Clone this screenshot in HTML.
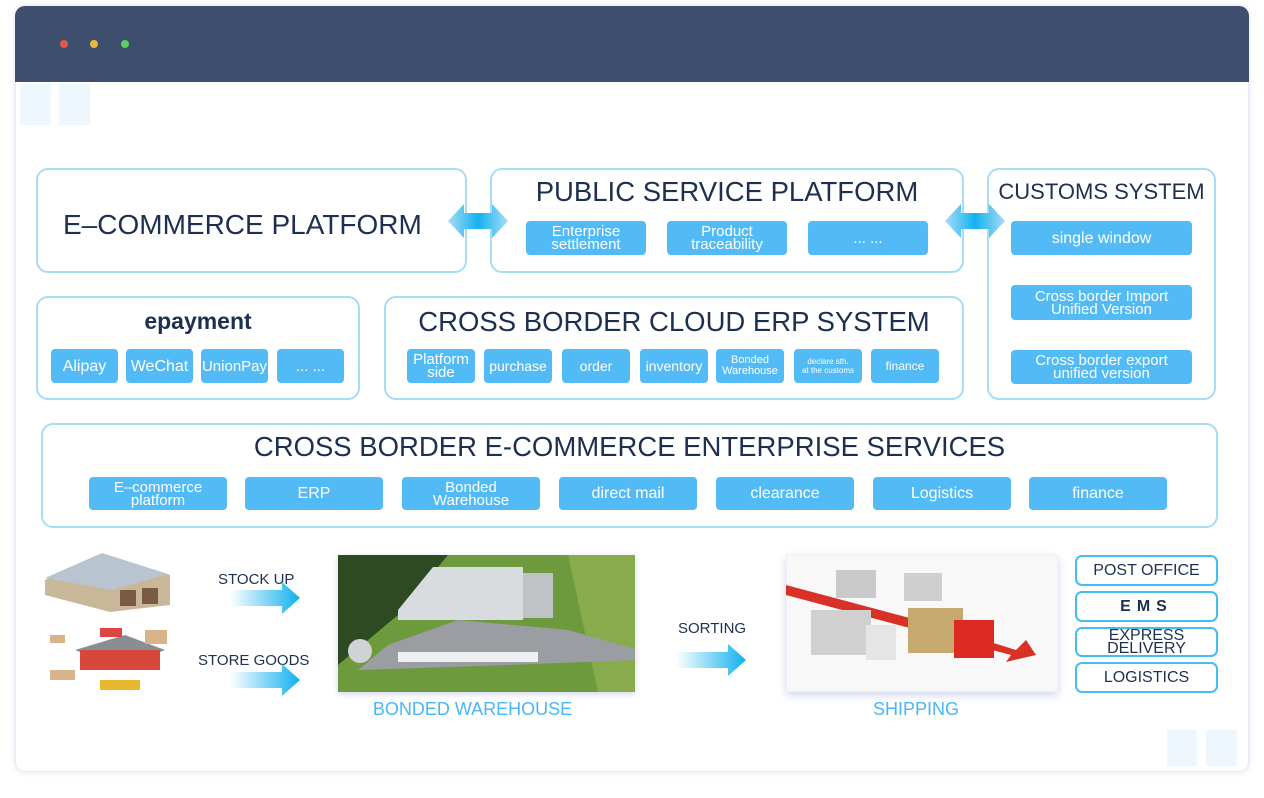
<!DOCTYPE html>
<html><head><meta charset="utf-8"><style>
*{margin:0;padding:0;box-sizing:border-box}
body{width:1264px;height:798px;background:#fff;position:relative;overflow:hidden;font-family:"Liberation Sans",Arial,sans-serif;color:#1d3050}
.a{position:absolute}
.card{left:15px;top:6px;width:1234px;height:766px;border-radius:10px;background:#fff;box-shadow:0 0 6px rgba(120,140,200,.25);border:1px solid #e6ebf7}
.hdr{left:15px;top:6px;width:1234px;height:76px;background:#3e4f6e;border-radius:10px 10px 0 0}
.dot{width:8px;height:8px;border-radius:50%;top:40px}
.box{border:2px solid #a6dcf4;border-radius:12px;background:#fff}
.chip{background:#52bbf6;color:#fff;border-radius:4px;display:flex;align-items:center;justify-content:center;text-align:center;font-size:15px;line-height:13px}
.t{white-space:nowrap;text-align:center}
.ob{border:2px solid #46bdf0;border-radius:7px;display:flex;align-items:center;justify-content:center;text-align:center;font-size:16px;line-height:13px;color:#1d3050}
.q{background:#eef7fe}
</style></head><body>
<div class="a card"></div>
<div class="a hdr"></div>
<div class="a dot" style="left:60px;background:#e0574a"></div>
<div class="a dot" style="left:90px;background:#f0b63c"></div>
<div class="a dot" style="left:121px;background:#5bd05a"></div>
<div class="a q" style="left:20px;top:84px;width:31px;height:41px"></div>
<div class="a q" style="left:59px;top:84px;width:31px;height:41px"></div>
<div class="a q" style="left:1167px;top:730px;width:30px;height:36px"></div>
<div class="a q" style="left:1206px;top:730px;width:31px;height:36px"></div>

<!-- row1 -->
<div class="a box" style="left:36px;top:168px;width:431px;height:105px"></div>
<div class="a t" style="left:63px;top:209px;font-size:28px">E–COMMERCE PLATFORM</div>

<div class="a box" style="left:490px;top:168px;width:474px;height:105px"></div>
<div class="a t" style="left:490px;width:474px;top:176px;font-size:27.5px">PUBLIC SERVICE PLATFORM</div>
<div class="a chip" style="left:526px;top:221px;width:120px;height:34px">Enterprise<br>settlement</div>
<div class="a chip" style="left:667px;top:221px;width:120px;height:34px">Product<br>traceability</div>
<div class="a chip" style="left:808px;top:221px;width:120px;height:34px">... ...</div>

<div class="a box" style="left:987px;top:168px;width:229px;height:232px"></div>
<div class="a t" style="left:987px;width:229px;top:179px;font-size:22px">CUSTOMS SYSTEM</div>
<div class="a chip" style="left:1011px;top:221px;width:181px;height:34px;font-size:16px">single window</div>
<div class="a chip" style="left:1011px;top:285px;width:181px;height:35px">Cross border Import<br>Unified Version</div>
<div class="a chip" style="left:1011px;top:350px;width:181px;height:34px">Cross border export<br>unified version</div>

<!-- row2 -->
<div class="a box" style="left:36px;top:296px;width:324px;height:104px"></div>
<div class="a t" style="left:36px;width:324px;top:308px;font-size:23px;font-weight:bold">epayment</div>
<div class="a chip" style="left:51px;top:349px;width:67px;height:34px;font-size:16px">Alipay</div>
<div class="a chip" style="left:126px;top:349px;width:67px;height:34px;font-size:16px">WeChat</div>
<div class="a chip" style="left:201px;top:349px;width:67px;height:34px">UnionPay</div>
<div class="a chip" style="left:277px;top:349px;width:67px;height:34px">... ...</div>

<div class="a box" style="left:384px;top:296px;width:580px;height:104px"></div>
<div class="a t" style="left:384px;width:580px;top:306px;font-size:27.5px">CROSS BORDER CLOUD ERP SYSTEM</div>
<div class="a chip" style="left:407px;top:349px;width:68px;height:34px">Platform<br>side</div>
<div class="a chip" style="left:484px;top:349px;width:68px;height:34px;font-size:14px">purchase</div>
<div class="a chip" style="left:562px;top:349px;width:68px;height:34px;font-size:14px">order</div>
<div class="a chip" style="left:640px;top:349px;width:68px;height:34px;font-size:14px">inventory</div>
<div class="a chip" style="left:716px;top:349px;width:68px;height:34px;font-size:11px;line-height:11px">Bonded<br>Warehouse</div>
<div class="a chip" style="left:794px;top:349px;width:68px;height:34px;font-size:8px;line-height:9px">declare sth.<br>at the customs</div>
<div class="a chip" style="left:871px;top:349px;width:68px;height:34px;font-size:12px">finance</div>

<!-- row3 -->
<div class="a box" style="left:41px;top:423px;width:1177px;height:105px"></div>
<div class="a t" style="left:41px;width:1177px;top:431px;font-size:27.5px">CROSS BORDER E-COMMERCE ENTERPRISE SERVICES</div>
<div class="a chip" style="left:89px;top:477px;width:138px;height:33px">E–commerce<br>platform</div>
<div class="a chip" style="left:245px;top:477px;width:138px;height:33px;font-size:16px">ERP</div>
<div class="a chip" style="left:402px;top:477px;width:138px;height:33px">Bonded<br>Warehouse</div>
<div class="a chip" style="left:559px;top:477px;width:138px;height:33px;font-size:16px">direct mail</div>
<div class="a chip" style="left:716px;top:477px;width:138px;height:33px;font-size:16px">clearance</div>
<div class="a chip" style="left:873px;top:477px;width:138px;height:33px;font-size:16px">Logistics</div>
<div class="a chip" style="left:1029px;top:477px;width:138px;height:33px;font-size:16px">finance</div>

<!-- bottom -->
<svg class="a" style="left:40px;top:550px" width="135" height="145">
<polygon points="5,30 65,5 130,25 130,55 70,62 5,45" fill="#c9b79a"/>
<polygon points="5,28 62,3 128,24 72,40" fill="#b8c4cf"/>
<rect x="80" y="40" width="16" height="16" fill="#7a5a45"/><rect x="102" y="38" width="16" height="16" fill="#7a5a45"/>
<polygon points="35,100 85,85 125,100 80,118" fill="#8a8d92"/>
<rect x="40" y="100" width="80" height="20" fill="#d8483a"/>
<rect x="60" y="130" width="40" height="10" fill="#e8b830"/>
<rect x="10" y="120" width="25" height="10" fill="#d9b48a"/><rect x="60" y="78" width="22" height="9" fill="#d44"/>
<rect x="10" y="85" width="15" height="8" fill="#d9b48a"/><rect x="105" y="80" width="22" height="14" fill="#d9b48a"/>
</svg>
<div class="a t" style="left:218px;top:571px;font-size:15px">STOCK UP</div>
<div class="a t" style="left:198px;top:652px;font-size:15px">STORE GOODS</div>
<div class="a t" style="left:678px;top:620px;font-size:15px">SORTING</div>
<svg class="a" style="left:230px;top:582px" width="72" height="32"><defs><linearGradient id="g2"><stop offset="0" stop-color="#fff"/><stop offset="1" stop-color="#0fb0ee"/></linearGradient></defs><polygon points="0,8 52,8 52,0 70,16 52,32 52,24 0,24" fill="url(#g2)"/></svg>
<svg class="a" style="left:230px;top:664px" width="72" height="32"><polygon points="0,8 52,8 52,0 70,16 52,32 52,24 0,24" fill="url(#g2)"/></svg>
<svg class="a" style="left:676px;top:644px" width="72" height="32"><polygon points="0,8 52,8 52,0 70,16 52,32 52,24 0,24" fill="url(#g2)"/></svg>

<svg class="a" style="left:338px;top:555px;box-shadow:0 2px 6px rgba(100,120,200,.3)" width="297" height="137">
<rect width="297" height="137" fill="#6d9a3c"/>
<polygon points="0,0 110,0 60,60 0,110" fill="#2e4a22"/>
<polygon points="230,0 297,0 297,137 260,137" fill="#88ac4c"/>
<polygon points="50,90 120,65 230,75 300,95 297,105 170,110 20,115" fill="#9a9ea2"/>
<polygon points="60,55 95,12 185,12 185,65 60,65" fill="#d8dcdf"/>
<rect x="185" y="18" width="30" height="45" fill="#bfc3c6"/>
<rect x="60" y="97" width="140" height="10" fill="#eef0f2"/>
<circle cx="22" cy="96" r="12" fill="#d0d3d5"/>
</svg>
<div class="a t" style="left:338px;width:269px;top:699px;font-size:18px;color:#4ab7f2">BONDED WAREHOUSE</div>

<svg class="a" style="left:786px;top:555px;box-shadow:0 3px 8px rgba(100,120,200,.3)" width="272" height="137">
<rect width="272" height="137" fill="#f8f8f9" stroke="#e3e8f3"/>
<polygon points="0,30 150,70 230,95 240,85 250,100 220,107 225,100 0,40" fill="#d93126"/>
<rect x="50" y="15" width="40" height="28" fill="#c9c9c9"/><rect x="118" y="18" width="38" height="28" fill="#cfcfcf"/>
<rect x="25" y="55" width="60" height="45" fill="#d0d0d0"/><rect x="80" y="70" width="30" height="35" fill="#e5e5e5"/>
<rect x="122" y="53" width="55" height="45" fill="#c6a96e"/><rect x="168" y="65" width="40" height="38" fill="#dc2a22"/>
</svg>
<div class="a t" style="left:858px;width:116px;top:699px;font-size:18px;color:#4ab7f2">SHIPPING</div>

<div class="a ob" style="left:1075px;top:555px;width:143px;height:31px">POST OFFICE</div>
<div class="a ob" style="left:1075px;top:591px;width:143px;height:31px;font-weight:bold;letter-spacing:6px">EMS</div>
<div class="a ob" style="left:1075px;top:627px;width:143px;height:30px">EXPRESS<br>DELIVERY</div>
<div class="a ob" style="left:1075px;top:662px;width:143px;height:31px">LOGISTICS</div>

<!-- double arrows on top -->
<svg class="a" style="left:448px;top:203px" width="60" height="36"><defs><linearGradient id="g1"><stop offset="0" stop-color="#a9dbf6"/><stop offset=".5" stop-color="#12b2ef"/><stop offset="1" stop-color="#a9dbf6"/></linearGradient></defs><polygon points="0,18 16,1 16,10 44,10 44,1 60,18 44,35 44,26 16,26 16,35" fill="url(#g1)"/></svg>
<svg class="a" style="left:945px;top:203px" width="60" height="36"><polygon points="0,18 16,1 16,10 44,10 44,1 60,18 44,35 44,26 16,26 16,35" fill="url(#g1)"/></svg>
</body></html>
